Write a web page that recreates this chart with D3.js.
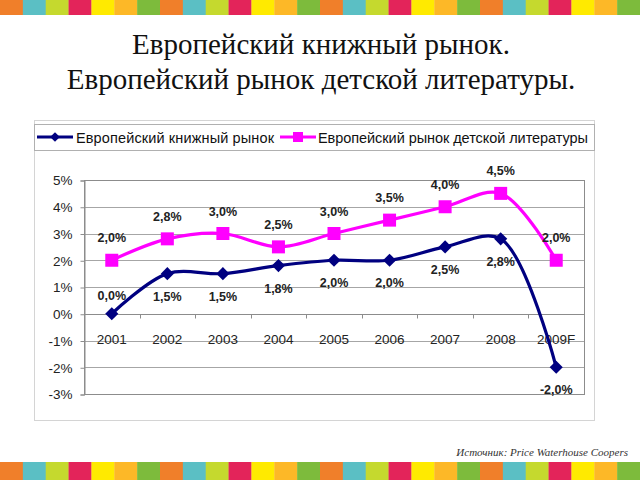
<!DOCTYPE html>
<html><head><meta charset="utf-8">
<script src="https://cdn.jsdelivr.net/npm/d3@7"></script>
<style>html,body{margin:0;padding:0;background:#fff;}svg{display:block;}</style>
</head><body>
<svg id="c" width="640" height="480"></svg>
<script>
const categories = ["2001","2002","2003","2004","2005","2006","2007","2008","2009F"];
const bookMarket = [0.0, 1.5, 1.5, 1.8, 2.0, 2.0, 2.5, 2.8, -2.0];
const childrenMarket = [2.0, 2.8, 3.0, 2.5, 3.0, 3.5, 4.0, 4.5, 2.0];
const seriesNames = ["Европейский книжный рынок", "Европейский рынок детской литературы"];
const yTicks = [5,4,3,2,1,0,-1,-2,-3];
const titleLines = ["Европейский книжный рынок.", "Европейский рынок детской литературы."];
const sourceText = "Источник: Price Waterhouse Coopers";
const stripeColors = ["#F07F2A","#5BBFC4","#C5D92E","#E3245A","#FFEA00","#FDB827","#7DBB3C"];

const svg = d3.select("#c");
const fmt = v => v.toFixed(1).replace(".", ",") + "%";

// decorative stripes
const bw = 160/7;
const blocks = d3.range(Math.ceil(640/bw));
svg.selectAll("rect.top").data(blocks).join("rect")
  .attr("x", i => i*bw).attr("y", 0).attr("width", bw+0.3).attr("height", 15)
  .attr("fill", i => stripeColors[i % 7]);
svg.selectAll("rect.bot").data(blocks).join("rect")
  .attr("x", i => i*bw).attr("y", 462).attr("width", bw+0.3).attr("height", 18)
  .attr("fill", i => stripeColors[i % 7]);

// title
svg.selectAll("text.title").data(titleLines).join("text")
  .attr("x", 321).attr("y", (d,i) => 54 + i*35)
  .attr("text-anchor", "middle")
  .attr("font-family", "'Liberation Serif','Times New Roman',serif")
  .attr("font-size", 29).attr("fill", "#111").text(d => d);

// source
svg.append("text").attr("x", 628).attr("y", 456).attr("text-anchor", "end")
  .attr("font-family", "'Liberation Serif','Times New Roman',serif")
  .attr("font-style", "italic").attr("font-size", 11).attr("fill", "#333")
  .text(sourceText);

// chart frame
svg.append("rect").attr("x", 34.5).attr("y", 120.5).attr("width", 560).attr("height", 300)
  .attr("fill", "#fff").attr("stroke", "#d4d4d4");

// legend
svg.append("rect").attr("x", 34.5).attr("y", 124.5).attr("width", 560).attr("height", 26)
  .attr("fill", "#fff").attr("stroke", "#b0b0b0");

const colors = ["#000080", "#FF00FF"];
const legendItems = [
  {x0: 37, x1: 73, tx: 76, tw: 198},
  {x0: 280, x1: 316, tx: 318, tw: 270}
];
legendItems.forEach((it, i) => {
  const g = svg.append("g");
  g.append("line").attr("x1", it.x0).attr("x2", it.x1).attr("y1", 137).attr("y2", 137)
    .attr("stroke", colors[i]).attr("stroke-width", 3);
  const cx = (it.x0 + it.x1)/2;
  if (i === 0) {
    g.append("path").attr("d", d3.symbol(d3.symbolDiamond2, 60)()).attr("transform", `translate(${cx},137)`).attr("fill", colors[i]);
  } else {
    g.append("rect").attr("x", cx-5).attr("y", 132).attr("width", 10).attr("height", 10).attr("fill", colors[i]);
  }
  g.append("text").attr("x", it.tx).attr("y", 142.5)
    .attr("font-family", "'Liberation Sans',Arial,sans-serif").attr("font-size", 14.5)
    .attr("fill", "#111").attr("textLength", it.tw).attr("lengthAdjust", "spacing")
    .text(seriesNames[i]);
});

// scales
const x = d3.scalePoint().domain(categories).range([84, 584]).padding(0.5);
const y = d3.scaleLinear().domain([-3, 5]).range([394, 180]);

// gridlines
svg.append("g").selectAll("line").data(yTicks).join("line")
  .attr("x1", 84).attr("x2", 584)
  .attr("y1", d => Math.round(y(d))+0.5).attr("y2", d => Math.round(y(d))+0.5)
  .attr("stroke", "#a6a6a6").attr("stroke-width", 1);

// plot border
svg.append("rect").attr("x", 84.5).attr("y", 180.5).attr("width", 500).attr("height", 214)
  .attr("fill", "none").attr("stroke", "#8c8c8c");

// y axis
const yAxis = d3.axisLeft(y).tickValues(yTicks).tickSize(4).tickPadding(8).tickFormat(d => d + "%");
const ya = svg.append("g").attr("transform", "translate(84.5,0.5)").call(yAxis);
ya.select(".domain").attr("stroke", "#8c8c8c");
ya.selectAll(".tick line").attr("stroke", "#8c8c8c");
ya.selectAll(".tick text").attr("font-family", "'Liberation Sans',Arial,sans-serif")
  .attr("font-size", 13.5).attr("fill", "#222");

// x axis at 0
const step = x.step();
const xa = svg.append("g").attr("transform", `translate(0,${Math.round(y(0))+0.5})`);
xa.append("line").attr("x1", 84).attr("x2", 584).attr("stroke", "#8c8c8c");
xa.selectAll("line.tk").data(d3.range(1, categories.length+1)).join("line")
  .attr("x1", i => Math.round(84 + i*step)+0.5).attr("x2", i => Math.round(84 + i*step)+0.5)
  .attr("y1", 0).attr("y2", 4).attr("stroke", "#8c8c8c");
xa.selectAll("text").data(categories).join("text")
  .attr("x", d => x(d)).attr("y", 29).attr("text-anchor", "middle")
  .attr("font-family", "'Liberation Sans',Arial,sans-serif").attr("font-size", 13.5)
  .attr("fill", "#222").text(d => d);

// lines
const line = d3.line().x((d,i) => x(categories[i])).y(d => y(d)).curve(d3.curveCatmullRom.alpha(0.5));
[childrenMarket, bookMarket].forEach((s, k) => {
  const c = k === 0 ? colors[1] : colors[0];
  svg.append("path").datum(s).attr("d", line).attr("fill", "none")
    .attr("stroke", c).attr("stroke-width", 3.2).attr("stroke-linejoin", "round");
});

// markers
svg.append("g").selectAll("rect").data(childrenMarket).join("rect")
  .attr("x", (d,i) => x(categories[i]) - 6.5).attr("y", d => y(d) - 6.5)
  .attr("width", 13).attr("height", 13).attr("fill", colors[1]);
svg.append("g").selectAll("path").data(bookMarket).join("path")
  .attr("d", d3.symbol(d3.symbolDiamond2, 110)())
  .attr("transform", (d,i) => `translate(${x(categories[i])},${y(d)})`)
  .attr("fill", colors[0]);

// data labels
const lblFont = "'Liberation Sans',Arial,sans-serif";
svg.append("g").selectAll("text").data(childrenMarket).join("text")
  .attr("x", (d,i) => x(categories[i])).attr("y", d => y(d) - 18)
  .attr("text-anchor", "middle").attr("font-family", lblFont).attr("font-weight", "bold")
  .attr("font-size", 12.5).attr("fill", "#222").text(d => fmt(d));
svg.append("g").selectAll("text").data(bookMarket).join("text")
  .attr("x", (d,i) => x(categories[i]))
  .attr("y", (d,i) => i === 0 ? y(d) - 14 : y(d) + 27)
  .attr("text-anchor", "middle").attr("font-family", lblFont).attr("font-weight", "bold")
  .attr("font-size", 12.5).attr("fill", "#222").text(d => fmt(d));
</script>
</body></html>
